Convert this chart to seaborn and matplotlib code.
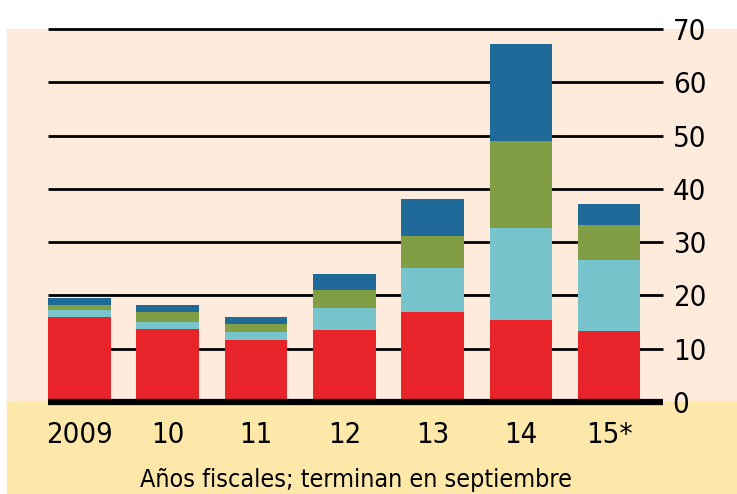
import numpy as np
import pandas as pd
import matplotlib
matplotlib.use("Agg")
import matplotlib.pyplot as plt
from matplotlib.patches import Rectangle
import seaborn as sns

years = ["2009", "10", "11", "12", "13", "14", "15*"]
red = [15.9, 13.7, 11.6, 13.5, 16.9, 15.4, 13.3]
light_blue = [1.4, 1.3, 1.5, 4.1, 8.2, 17.2, 13.3]
green = [0.9, 1.9, 1.5, 3.4, 6.0, 16.4, 6.6]
dark_blue = [1.3, 1.3, 1.3, 3.0, 7.0, 18.2, 3.9]
yticks = [0, 10, 20, 30, 40, 50, 60, 70]

layers = [red, light_blue, green, dark_blue]
colors = ["#e8242a", "#78c4cc", "#829e44", "#206a9a"]

sns.set_style("white")
plt.rcParams['font.family'] = ['Liberation Sans Narrow', 'DejaVu Sans']
plt.rcParams['font.stretch'] = 'condensed'

fig = plt.figure(figsize=(7.37, 4.94), dpi=100)
W, H = 737, 494
# background bands
fig.patches.append(Rectangle((7 / W, 92 / H), 1, (402 - 29) / H, transform=fig.transFigure,
                             color="#feebdc", zorder=0))
fig.patches.append(Rectangle((7 / W, 0), 1, 92 / H, transform=fig.transFigure,
                             color="#fde8a9", zorder=0))

ax = fig.add_axes([48 / W, 92 / H, (663 - 48) / W, (402 - 29) / H])
ax.set_zorder(2)
ax.patch.set_alpha(0)

bottom = np.zeros(len(years))
for vals, c in zip(layers, colors):
    df = pd.DataFrame({"year": years, "value": vals})
    sns.barplot(data=df, x="year", y="value", color=c, width=0.71,
                bottom=bottom, saturation=1, linewidth=0, ax=ax, zorder=2)
    bottom = bottom + np.array(vals)

for t in yticks[1:]:
    ax.axhline(t, color="black", lw=2, zorder=1, clip_on=False, solid_capstyle="butt")
ax.axhline(0, color="black", lw=4.5, zorder=3, clip_on=False, solid_capstyle="butt")

ax.set_xlim(-0.357, 6.61)
ax.set_ylim(0, 70)
ax.yaxis.tick_right()
ax.set_yticks(yticks)
ax.tick_params(axis="y", length=0, pad=7, labelsize=21, labelcolor="black")
ax.tick_params(axis="x", length=0, pad=14, labelsize=21, labelcolor="black")
for s in ax.spines.values():
    s.set_visible(False)
ax.set_xlabel("")
ax.set_ylabel("")

fig.text(356 / W, 7 / H, "Años fiscales; terminan en septiembre", ha="center",
         va="baseline", fontsize=18, color="black")

plt.savefig("out.png", dpi=100)
